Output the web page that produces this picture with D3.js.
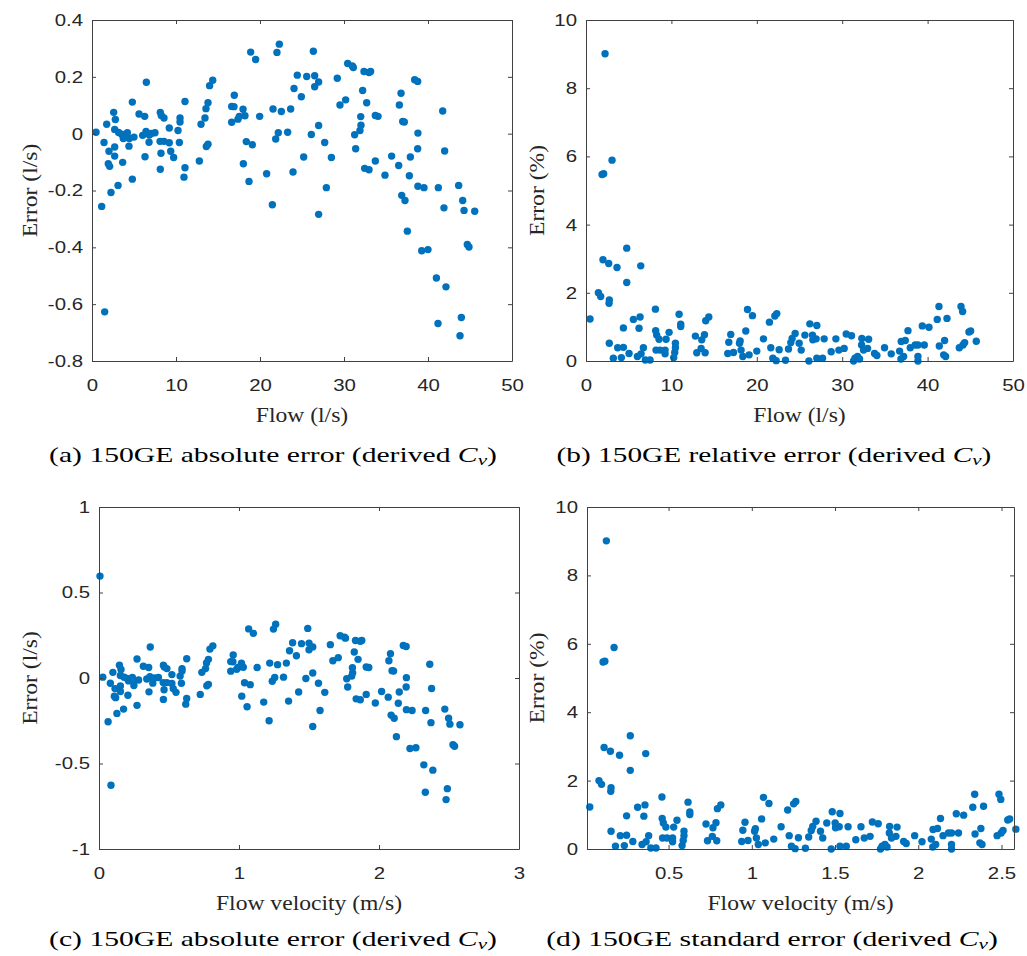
<!DOCTYPE HTML>
<html>
<head>
	<meta charset="UTF-8">
	<script src="https://d3js.org/d3.v7.min.js"></script>
	<style type="text/css">
	body { margin: 0; background: #fff; }
	.tick text { font-family: "Liberation Sans", Arial, sans-serif; font-size: 17px; fill: #262626; }
	.axlabel { font-family: "Liberation Serif", "Times New Roman", serif; font-size: 20px; fill: #262626; }
	.caption { font-family: "Liberation Serif", "Times New Roman", serif; font-size: 21px; fill: #000; }
	.dot { fill: #0072BD; }
	</style>
	<title>150GE error</title>
</head>
<body>
<div id="chart"></div>
<script>
// flow (l/s) and absolute error (l/s), panel (a)
var flowAbs = [0.48,1.43,1.15,1.51,1.75,2.02,1.94,2.10,2.26,2.58,2.78,2.70,2.70,2.70,3.10,3.17,3.65,3.53,3.73,4.05,
  4.21,4.40,4.44,4.80,4.80,5.0,5.6,6.27,6.47,6.03,6.43,6.31,6.83,6.79,7.06,7.5,8.13,8.25,8.57,8.10,
  8.57,8.21,8.13,9.2,9.2,9.37,9.72,10.24,10.48,10.48,10.4,11.07,11.07,10.95,12.78,12.98,13.45,13.57,13.81,13.61,
  13.81,14.0,14.37,16.63,16.9,16.94,16.63,17.38,17.54,17.98,18.21,18.02,18.37,19.09,18.69,18.89,19.48,19.96,20.79,21.47,
  21.55,22.02,22.3,22.18,21.87,22.54,23.29,23.65,23.93,24.05,24.44,24.92,25.2,25.56,26.35,26.51,26.98,26.51,26.98,26.11,
  27.7,26.98,27.9,28.5,29.2,29.52,30.2,30.44,30.99,31.11,32.22,32.38,32.98,33.17,32.7,31.99,32.02,31.9,31.27,31.39,
  32.46,32.98,33.73,33.73,34.05,34.88,35.67,36.51,36.59,36.79,36.99,37.18,36.87,37.26,37.54,37.78,37.9,38.41,38.77,38.8,
  38.77,38.8,39.52,39.25,40.0,41.0,42.14,41.19,41.23,41.75,41.98,41.9,43.65,44.13,44.29,43.97,43.81,44.68,44.88,45.56];
var absErr = [0.005,-0.031,-0.256,-0.627,0.033,-0.062,-0.106,-0.115,-0.207,0.075,0.050,0.015,-0.047,-0.079,-0.182,0.004,-0.101,-0.002,-0.017,-0.011,
  0.003,-0.044,-0.017,0.111,-0.160,-0.012,0.069,0.061,0.181,-0.006,0.008,-0.081,-0.005,-0.030,0.001,0.003,0.075,0.064,0.055,-0.027,
  -0.027,-0.069,-0.125,0.020,-0.032,-0.062,-0.084,0.011,0.055,0.041,-0.031,0.113,-0.120,-0.153,-0.096,0.033,0.055,0.088,0.109,-0.045,
  -0.037,0.169,0.188,0.096,0.095,0.135,0.040,0.051,0.061,0.086,0.063,-0.106,-0.028,-0.039,-0.168,0.287,0.261,0.061,-0.141,-0.250,
  0.087,0.286,0.315,0.003,-0.019,0.078,0.005,0.087,-0.135,0.159,0.206,0.130,-0.082,0.201,0.290,0.204,0.182,0.165,0.029,-0.003,
  -0.031,-0.284,-0.190,-0.084,0.195,0.101,0.119,0.247,0.238,0.233,0.152,0.219,0.215,0.219,0.109,0.060,0.030,0.011,-0.004,-0.053,
  -0.122,-0.127,-0.096,0.064,0.061,-0.146,-0.079,-0.112,0.101,0.142,0.043,0.041,-0.217,-0.235,-0.343,-0.148,-0.082,0.190,0.184,0.002,
  -0.053,-0.185,-0.190,-0.412,-0.408,-0.508,-0.539,-0.668,-0.190,0.080,-0.061,-0.261,-0.182,-0.235,-0.270,-0.647,-0.711,-0.390,-0.399,-0.273];

// flow (l/s) and relative error (%), panel (b)
var flowRel = [2.23,1.88,2.07,3.05,1.99,2.66,3.63,4.77,6.41,4.77,1.45,1.72,2.73,2.70,0.47,2.73,3.2,3.71,4.38,4.14,
  4.38,5.04,5.55,6.33,6.21,6.02,6.72,6.45,6.95,7.5,8.13,8.16,8.28,8.55,8.2,8.67,9.26,9.26,9.38,9.73,
  10.47,10.47,10.39,10.27,10.9,11.09,11.09,12.81,13.55,13.87,13.48,12.97,13.95,14.02,14.38,16.6,16.72,16.95,17.27,17.97,
  18.05,18.16,18.36,18.71,18.91,19.49,19.1,20.0,20.78,21.48,22.11,22.34,21.64,21.88,22.27,22.62,23.36,23.71,23.98,24.14,
  24.49,24.96,25.2,25.63,26.21,26.1,26.52,26.56,26.95,27.03,27.03,27.7,27.89,28.71,29.26,29.61,30.23,30.47,31.09,31.33,
  31.8,32.03,31.5,32.3,33.09,32.27,32.5,32.97,33.79,34.06,34.96,35.74,36.72,36.91,37.38,37.7,37.19,36.88,37.97,38.55,
  38.87,39.61,38.87,38.87,39.38,40.16,41.13,41.33,42.27,41.37,41.99,41.88,42.11,43.91,44.1,44.84,45.04,44.34,44.14,43.71,45.7];
var relErr = [9.01,5.47,5.49,5.89,2.97,2.86,2.74,3.31,2.79,2.30,2.00,1.89,1.79,1.69,1.23,0.52,0.08,0.39,0.40,0.10,
  0.97,0.22,1.22,1.29,0.96,0.13,0.39,0.21,0.03,0.03,1.52,0.89,0.76,0.64,0.32,0.32,0.32,0.21,0.64,0.84,
  0.52,0.39,0.25,0.10,1.37,1.08,1.01,0.73,0.62,0.77,0.37,0.24,0.24,1.18,1.29,0.22,0.55,0.78,0.25,0.52,
  0.59,0.32,0.13,0.88,1.51,1.33,0.18,0.29,0.65,1.14,1.32,1.39,0.39,0.08,0.01,0.33,0.02,0.35,0.54,0.66,
  0.81,0.52,0.32,0.76,1.09,0.0,0.76,0.62,0.65,1.04,0.08,0.08,0.65,0.27,0.65,0.32,0.37,0.79,0.74,0.0,
  0.13,0.06,0.08,0.66,0.64,0.47,0.32,0.37,0.22,0.16,0.39,0.21,0.29,0.57,0.60,0.89,0.13,0.06,0.39,0.47,
  0.47,0.47,0.13,0.0,1.03,0.99,1.22,1.60,1.25,0.44,0.60,0.18,0.13,1.60,1.45,0.85,0.88,0.54,0.47,0.39,0.58];

// extra reading shown only in panel (c): velocity (m/s), error (l/s)
var extraVel = [0.007];
var extraErr = [0.596];

// 150 mm pipe: litres per metre of pipe, to turn flow (l/s) into velocity (m/s)
var pipeArea = Math.PI * 0.075 * 0.075 * 1000;

var ticksA = [-0.8,-0.6,-0.4,-0.2,0,0.2,0.4];
var ticksPct = [0,2,4,6,8,10];
var ticksFlow = [0,10,20,30,40,50];
var ticksC = [-1,-0.5,0,0.5,1];
var ticksVelC = [0,1,2,3];
var ticksVelD = [0.5,1,1.5,2,2.5];

var velAbs = flowAbs.map(function(q) { return q / pipeArea; }).concat(extraVel);
var absErrC = absErr.concat(extraErr);
var velRel = flowRel.map(function(q) { return q / pipeArea; });

var panels = [
  {x: flowAbs, y: absErr, xd: [0,50], yd: [-0.8,0.4], xt: ticksFlow, yt: ticksA,
   box: [92,20,512,361], xl: "Flow (l/s)", yl: "Error (l/s)", cap: ["(a) 150GE absolute error (derived ", ")"], capx: 273, capw: 448, capy: 101, ylx: 30},
  {x: flowRel, y: relErr, xd: [0,50], yd: [0,10], xt: ticksFlow, yt: ticksPct,
   box: [586,20,1013,361], xl: "Flow (l/s)", yl: "Error (%)", cap: ["(b) 150GE relative error (derived ", ")"], capx: 774, capw: 435, capy: 101, ylx: 537},
  {x: velAbs, y: absErrC, xd: [0,3], yd: [-1,1], xt: ticksVelC, yt: ticksC,
   box: [99,507,519,849], xl: "Flow velocity (m/s)", yl: "Error (l/s)", cap: ["(c) 150GE absolute error (derived ", ")"], capx: 273, capw: 448, capy: 97, ylx: 30},
  {x: velRel, y: relErr, xd: [0.01,2.575], yd: [0,10], xt: ticksVelD, yt: ticksPct,
   box: [587,507,1014,849], xl: "Flow velocity (m/s)", yl: "Error (%)", cap: ["(d) 150GE standard error (derived ", ")"], capx: 772, capw: 452, capy: 97, ylx: 537}
];

var tickStretch = 1.2;
var labelStretch = 1.18;

var svg = d3.select("#chart").append("svg")
    .attr("width", 1027)
    .attr("height", 956);

panels.forEach(function(p) {
  var x0 = p.box[0], y0 = p.box[1], x1 = p.box[2], y1 = p.box[3];
  var xScale = d3.scaleLinear().domain(p.xd).range([x0, x1]);
  var yScale = d3.scaleLinear().domain(p.yd).range([y1, y0]);
  var g = svg.append("g");

  // dots first, axes drawn over them
  g.selectAll("circle")
    .data(d3.range(p.x.length))
    .enter().append("circle")
    .attr("class", "dot")
    .attr("cx", function(i) { return xScale(p.x[i]); })
    .attr("cy", function(i) { return yScale(p.y[i]); })
    .attr("r", 3.7);

  var fmt = function(d) { return d3.format("")(d).replace("−", "-"); };

  g.append("g")
    .attr("transform", "translate(0," + y1 + ")")
    .call(d3.axisBottom(xScale).tickValues(p.xt).tickSizeInner(-4).tickSizeOuter(0).tickPadding(18).tickFormat(fmt));
  g.append("g")
    .attr("transform", "translate(" + x0 + ",0)")
    .call(d3.axisLeft(yScale).tickValues(p.yt).tickSizeInner(-4).tickSizeOuter(0).tickPadding(7.5).tickFormat(fmt));
  g.append("g")
    .attr("transform", "translate(0," + y0 + ")")
    .call(d3.axisTop(xScale).tickValues(p.xt).tickSizeInner(-4).tickSizeOuter(0).tickFormat(""));
  g.append("g")
    .attr("transform", "translate(" + x1 + ",0)")
    .call(d3.axisRight(yScale).tickValues(p.yt).tickSizeInner(-4).tickSizeOuter(0).tickFormat(""));
  g.selectAll(".domain, .tick line").attr("stroke", "#404040").attr("stroke-width", 1);
  g.selectAll(".tick text").attr("transform", "scale(" + tickStretch + ",1)");

  g.append("text")
    .attr("class", "axlabel")
    .attr("transform", "translate(" + (x0 + x1) / 2 + "," + (y1 + 61) + ") scale(" + labelStretch + ",1)")
    .attr("text-anchor", "middle")
    .text(p.xl);
  g.append("text")
    .attr("class", "axlabel")
    .attr("transform", "translate(" + p.ylx + "," + (y0 + y1) / 2 + ") rotate(-90) scale(" + labelStretch + ",1)")
    .attr("text-anchor", "middle")
    .attr("dy", "0.35em")
    .text(p.yl);

  var cap = g.append("text")
    .attr("class", "caption")
    .attr("text-anchor", "middle");
  cap.append("tspan").text(p.cap[0]);
  cap.append("tspan").attr("font-style", "italic").text("C");
  cap.append("tspan").attr("font-style", "italic").attr("font-size", "15px").attr("dy", 3).text("v");
  cap.append("tspan").attr("dy", -3).text(p.cap[1]);
  // widen to the caption width of the figure
  var w = cap.node().getComputedTextLength();
  cap.attr("transform", "translate(" + p.capx + "," + (y1 + p.capy) + ") scale(" + (p.capw / w) + ",1)");
});
</script>
</body>
</html>
